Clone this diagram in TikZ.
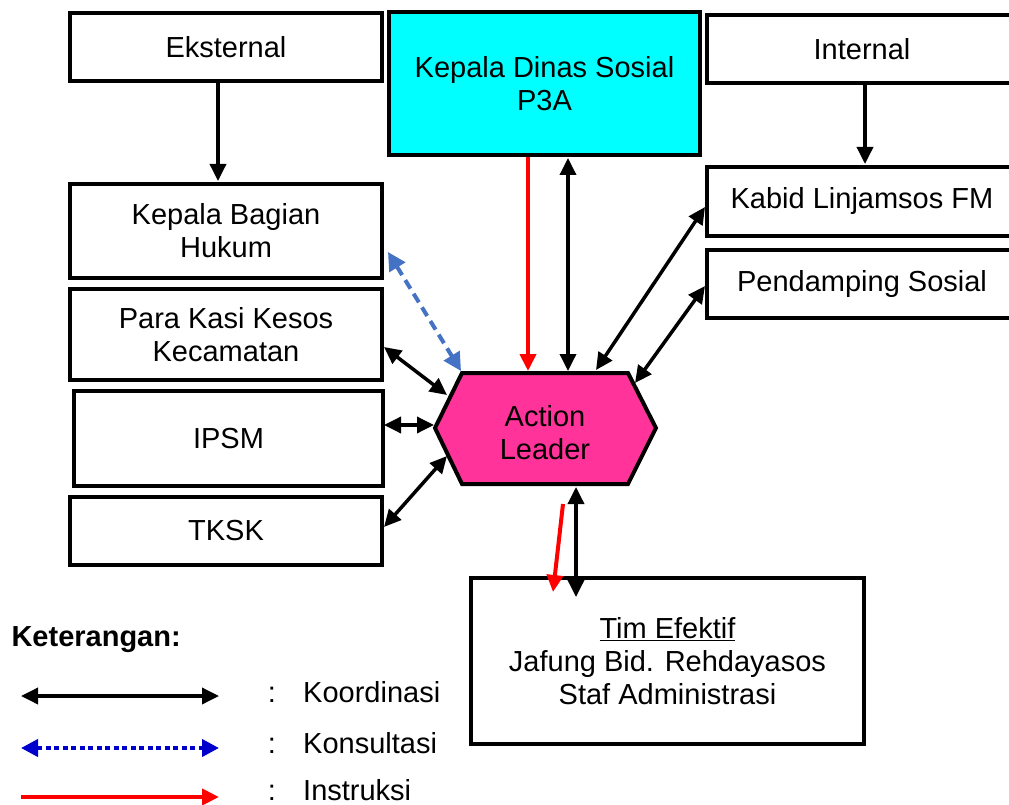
\documentclass[tikz,border=0pt]{standalone}
\usepackage{fontspec}
\setmainfont{Liberation Sans}
\usetikzlibrary{arrows.meta,calc}
\definecolor{cyanbox}{RGB}{0,255,255}
\definecolor{pinkhex}{RGB}{255,51,153}
\definecolor{konsul}{RGB}{68,114,196}
\definecolor{konsulleg}{RGB}{0,0,204}
\definecolor{instr}{RGB}{255,0,0}
\begin{document}
\begin{tikzpicture}[x=1pt,y=-1pt,
  txt/.style={font=\fontsize{29}{33}\selectfont},
  box/.style={txt,draw=black,line width=4pt,fill=white,align=center,inner sep=0pt},
  koor/.style={line width=3.5pt,draw=black,{Triangle[length=17pt,width=16pt]}-{Triangle[length=17pt,width=16pt]}},
  konsultasi/.style={line width=4pt,draw=konsul,dash pattern=on 10pt off 6pt,{Triangle[length=18pt,width=18pt]}-{Triangle[length=18pt,width=18pt]}},
  konsulleg/.style={line width=4pt,draw=konsulleg,dash pattern=on 5pt off 3.5pt,{Triangle[length=17pt,width=17pt]}-{Triangle[length=17pt,width=17pt]}},
  instruksi/.style={line width=4pt,draw=instr,-{Triangle[length=17pt,width=16pt]}},
  single/.style={line width=3.5pt,draw=black,-{Triangle[length=17pt,width=16pt]}}
]
\useasboundingbox (0,0) rectangle (1009,805);

% boxes
\node[box,minimum width=312,minimum height=68] (eks) at (226,47) {Eksternal};
\node[box,fill=cyanbox,minimum width=311,minimum height=143] (kd) at (544.5,83.5) {Kepala Dinas Sosial\\P3A};
\node[box,minimum width=310,minimum height=68] (int) at (862,49) {Internal};
\node[box,minimum width=312,minimum height=94] (huk) at (226,231) {Kepala Bagian\\Hukum};
\node[box,minimum width=310,minimum height=69] (kab) at (862,201.5) {Kabid Linjamsos FM};
\node[box,minimum width=310,minimum height=68] (pend) at (862,284) {Pendamping Sosial};
\node[box,minimum width=312,minimum height=91] (kasi) at (226,334.5) {Para Kasi Kesos\\Kecamatan};
\node[box,minimum width=309,minimum height=95] (ipsm) at (228.5,438.5) {IPSM};
\node[box,minimum width=312,minimum height=68] (tksk) at (226,531) {TKSK};
\node[box,minimum width=393,minimum height=166] (tim) at (667.5,661) {\underline{Tim Efektif}\\Jafung Bid. Rehdayasos\\Staf Administrasi};

% hexagon
\coordinate (h1) at (435,428);
\coordinate (h2) at (462,373);
\coordinate (h3) at (628,373);
\coordinate (h4) at (656,428);
\coordinate (h5) at (628,484);
\coordinate (h6) at (462,484);
\draw[line width=4pt,fill=pinkhex,line join=miter] (h1) -- (h2) -- (h3) -- (h4) -- (h5) -- (h6) -- cycle;
\node[txt,align=center] (al) at (545,433) {Action\\Leader};

% connector end points
\coordinate (aRed) at (528,371);
\coordinate (aKd) at (568,371);
\coordinate (aKab) at (596,370);
\coordinate (kabE) at (705,207);
\coordinate (aPend) at (635,383);
\coordinate (pendE) at (705,286);
\coordinate (aHuk) at (461,371);
\coordinate (hukE) at (388,252);
\coordinate (aKasi) at (447,395);
\coordinate (kasiE) at (384,347);
\coordinate (ipsmE) at (384,425);
\coordinate (aIpsm) at (434,425);
\coordinate (tkskE) at (384,527);
\coordinate (aTksk) at (447,456);
\coordinate (aRedB) at (563,504);
\coordinate (timRed) at (553,592);
\coordinate (aBlk) at (576,487);
\coordinate (timBlk) at (576,597);

% connectors
\draw[single] (eks.south -| 218,0) -- ($(huk.north -| 218,0)+(0,-1)$);
\draw[single] (int.south -| 865,0) -- ($(kab.north -| 865,0)+(0,-1)$);
\draw[instruksi] (kd.south -| aRed) -- (aRed);
\draw[koor] ($(kd.south -| aKd)+(0,1)$) -- (aKd);
\draw[koor] (kabE) -- (aKab);
\draw[koor] (pendE) -- (aPend);
\draw[konsultasi] (hukE) -- (aHuk);
\draw[koor] (kasiE) -- (aKasi);
\draw[koor] (ipsmE) -- (aIpsm);
\draw[koor] (tkskE) -- (aTksk);
\draw[instruksi] (aRedB) -- (timRed);
\draw[koor] (aBlk) -- (timBlk);

% legend
\node[txt,anchor=west,font=\fontsize{29}{33}\selectfont\bfseries] (ket) at (8,640) {Keterangan:};
\coordinate (l1a) at (21,696);
\coordinate (l1b) at (219,696);
\coordinate (l2a) at (21,748);
\coordinate (l2b) at (219,748);
\coordinate (l3a) at (21,797);
\coordinate (l3b) at (219,797);
\draw[koor] (l1a) -- (l1b);
\draw[konsulleg] (l2a) -- (l2b);
\draw[instruksi] (l3a) -- (l3b);
\node[txt,anchor=base,inner sep=0pt] (c1) at (272,702) {:};
\node[txt,anchor=base,inner sep=0pt] (c2) at (272,753) {:};
\node[txt,anchor=base,inner sep=0pt] (c3) at (272,800) {:};
\node[txt,anchor=base west,inner sep=0pt] (t1) at (303,702) {Koordinasi};
\node[txt,anchor=base west,inner sep=0pt] (t2) at (303,753) {Konsultasi};
\node[txt,anchor=base west,inner sep=0pt] (t3) at (303,800) {Instruksi};
\end{tikzpicture}
\end{document}
